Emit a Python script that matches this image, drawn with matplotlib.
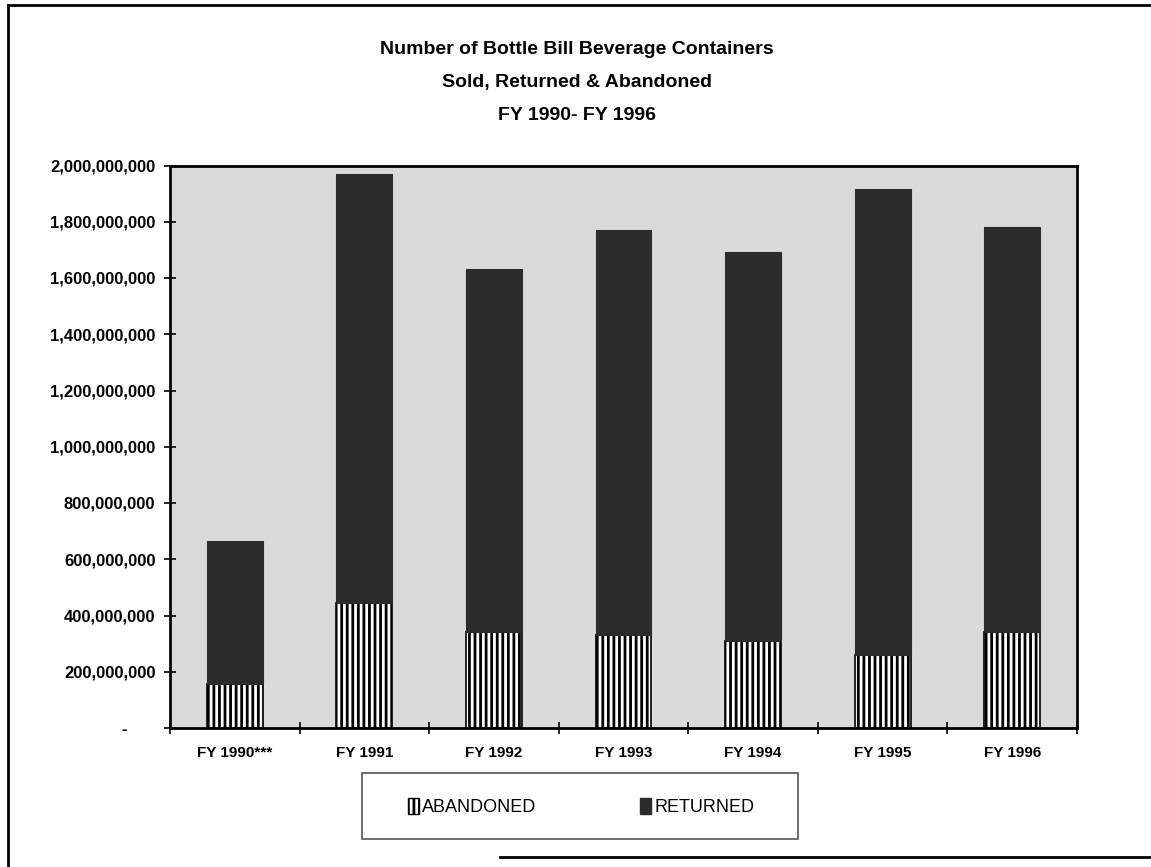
import matplotlib
matplotlib.use("Agg")
import matplotlib.pyplot as plt
from matplotlib.patches import Rectangle, Patch
from matplotlib.lines import Line2D
from matplotlib.ticker import FuncFormatter, FixedLocator

# Containers by fiscal year
years = ["FY 1990***", "FY 1991", "FY 1992", "FY 1993", "FY 1994", "FY 1995", "FY 1996"]
abandoned = [155e6, 443e6, 341e6, 331e6, 311e6, 260e6, 343e6]
returned = [510e6, 1527e6, 1291e6, 1439e6, 1383e6, 1656e6, 1438e6]
y_ticks = [0, 200e6, 400e6, 600e6, 800e6, 1000e6, 1200e6, 1400e6, 1600e6, 1800e6, 2000e6]

title_lines = ["Number of Bottle Bill Beverage Containers",
               "Sold, Returned & Abandoned",
               "FY 1990- FY 1996"]

W, H = 1151, 867
plt.rcParams["hatch.linewidth"] = 2.0
plt.rcParams["font.family"] = ["Liberation Sans", "DejaVu Sans"]

fig = plt.figure(figsize=(W / 100, H / 100), dpi=100)
fig.patch.set_facecolor("white")

ax = fig.add_axes([170 / W, 1 - 728 / H, (1077 - 170) / W, (728 - 165.5) / H])
ax.set_facecolor("#dadada")

x = list(range(len(years)))
bar_w = 0.43
ax.bar(x, abandoned, width=bar_w, color="white", edgecolor="black",
       hatch="|||", linewidth=1.2, zorder=2)
ax.bar(x, returned, width=bar_w, bottom=abandoned, color="#2b2b2b",
       edgecolor="#2b2b2b", linewidth=0.8, zorder=2)

ax.set_xlim(-0.5, len(years) - 0.5)
ax.set_ylim(0, 2000e6)


def money(v, pos):
    # accounting style: zero shown as a dash set in from the right
    return "-      " if v == 0 else f"{v:,.0f}"


ax.yaxis.set_major_locator(FixedLocator(y_ticks))
ax.yaxis.set_major_formatter(FuncFormatter(money))
ax.tick_params(axis="y", direction="inout", length=9, width=1.2, pad=6,
               labelsize=12)
for lbl in ax.get_yticklabels():
    lbl.set_fontweight("bold")

ax.set_xticks(x)
ax.set_xticklabels(years, fontsize=11, fontweight="bold")
ax.set_xticks([i + 0.5 for i in range(-1, len(years))], minor=True)
ax.tick_params(axis="x", which="major", length=0, pad=13)
ax.tick_params(axis="x", which="minor", direction="inout", length=8, width=1.2)

for s in ax.spines.values():
    s.set_linewidth(2.0)
    s.set_color("black")

# Title
for i, line in enumerate(title_lines):
    fig.text(577 / W, 1 - (50 + 33 * i) / H, line, ha="center", va="center",
             fontsize=14, fontweight="bold")

# Legend box
lx0, ly0, lx1, ly1 = 362, 773, 798, 839
fig.patches.append(Rectangle((lx0 / W, 1 - ly1 / H), (lx1 - lx0) / W, (ly1 - ly0) / H,
                             transform=fig.transFigure, facecolor="white",
                             edgecolor="#555555", linewidth=1.2))
handles = [Patch(facecolor="white", edgecolor="black", hatch="|||", label="ABANDONED"),
           Patch(facecolor="#2b2b2b", edgecolor="#2b2b2b", label="RETURNED")]
fig.legend(handles=handles, loc="center", bbox_to_anchor=(581 / W, 1 - 807 / H),
           ncol=2, frameon=False, fontsize=13, handlelength=0.6, handleheight=1.0,
           handletextpad=0.15, columnspacing=5.8)

# Page frame
fig.add_artist(Line2D([8 / W, 8 / W], [0, 1 - 5 / H], transform=fig.transFigure,
                      color="black", linewidth=2))
fig.add_artist(Line2D([8 / W, 1], [1 - 5 / H, 1 - 5 / H], transform=fig.transFigure,
                      color="black", linewidth=2))
fig.add_artist(Line2D([500 / W, 1], [1 - 857 / H, 1 - 857 / H], transform=fig.transFigure,
                      color="black", linewidth=2))

fig.savefig("out.png", dpi=100)
